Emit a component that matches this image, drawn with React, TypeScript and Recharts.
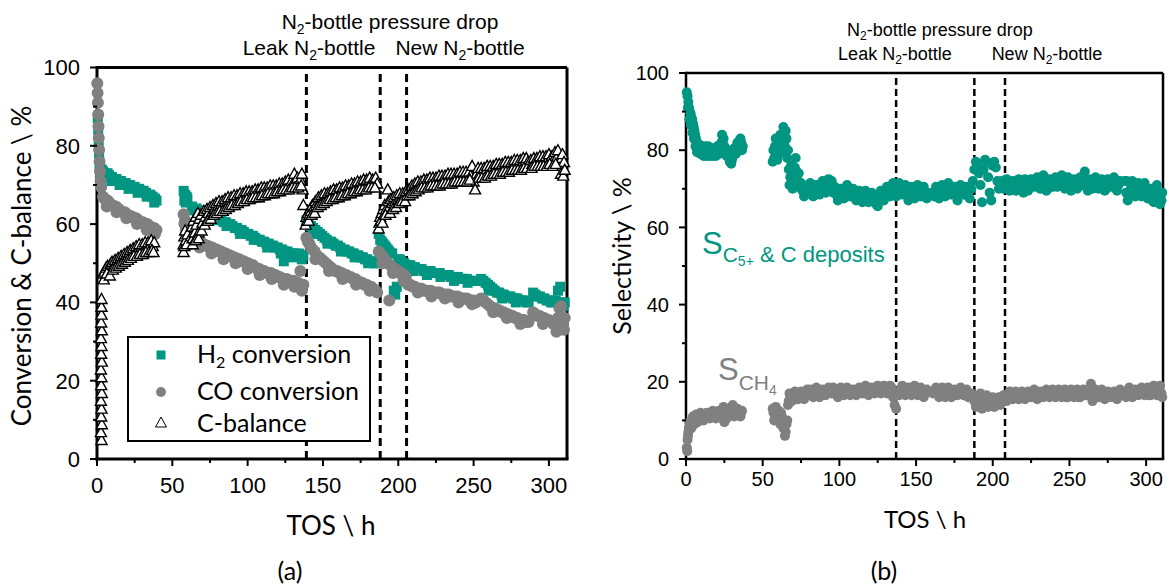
import React from 'react';
import { ScatterChart, Scatter, XAxis, YAxis, ReferenceLine } from 'recharts';

const TEAL = '#009682';
const GREY = '#808080';
const ARIAL = '"Liberation Sans", Arial, sans-serif';
const CAL = 'Lato, "Open Sans", sans-serif';

type P = [number, number];

// ---------- tick values ----------
const xTicks = [0, 25, 50, 75, 100, 125, 150, 175, 200, 225, 250, 275, 300];
const xMajor = [0, 50, 100, 150, 200, 250, 300];
const yTicks = [0, 10, 20, 30, 40, 50, 60, 70, 80, 90, 100];
const yMajor = [0, 20, 40, 60, 80, 100];
const eventsLeft = [139, 188, 205.5];
const eventsRight = [137, 188, 208];

// ---------- panel (a) ----------
const h2Conversion: P[] = [
  [0.5,87],[0.8,84],[1.1,81],[1.4,78],[1.7,75],[2,72.5],[2.5,71],[3,74],[4,73.5],[5,73],[6,72.5],[7,73],[8,72.5],[9,72],[10,72],[11.5,71.5],[13,71.5],[14.5,71],[16,71],[17.5,70.5],[19,70.5],[20.5,70],[22,70],[23.5,69.5],[25,69.5],[26.5,69],[28,69],[29.5,68.5],[31,68.5],[32.5,68],[34,67.5],[35.5,67.5],[37,67],[38.5,66.5],[39.5,66],
  [4.5,72],[9.5,71],[15,70],[21,69],[27,68],[33,67],[38,65.5],
  [57.5,68.5],[58,66],[58.5,67.5],[59,65.5],[59.5,67],[60,66.5],
  [63,64.5],[64.5,63.5],[66,64],[67.5,63.5],[69,63.5],[70.5,63],[72,63],[73.5,62.5],[75,62.5],[76.5,62],[78,62],[79.5,61.5],[81,61.5],[82.5,61],[84,60.5],[85.5,60.5],[87,60],[88.5,60],[90,59.5],[91.5,59],[93,59],[94.5,58.5],[96,58.5],[97.5,58],[99,57.5],[100.5,57.5],[102,57],[103.5,57],[105,56.5],[106.5,56],[108,56],[109.5,55.5],[111,55.5],[112.5,55],[114,55],[115.5,54.5],[117,54.5],[118.5,54],[120,54],[121.5,53.5],[123,53.5],[124,50.5],[125,53],[126.5,53],[128,52.5],[129.5,52.5],[131,52.5],[132.5,52],[134,52.5],[135.5,52],[137,52],
  [68,62.5],[77,61],[86,59.5],[95,57.5],[104,56],[113,54],[122,52.5],[130,51.5],[136,51],
  [139,61],[140.5,60.5],[142,59.5],[143.5,59],[145,58.5],[146.5,58],[148,57.5],[149.5,57],[151,56.5],[152.5,56],[154,55.5],[155.5,55.5],[157,55],[158.5,54.5],[160,54.5],[161.5,54],[163,53.5],[164.5,53.5],[166,53],[167.5,53],[169,52.5],[170.5,52.5],[172,52],[173.5,52],[175,51.5],[176.5,51.5],[178,51],[179.5,51],[181,50.5],[182.5,50.5],[184,50],[185.5,50],
  [144,57.5],[153,55],[162,53],[171,51.5],[180,50],
  [187,57.5],[188,56],[189,55.5],[190,55],[191,54.5],[192,54],[193,53.5],[194,53],[195,52.5],[196,52.5],[197,43],[198,42],[199,44],[200,51],[201,51],[202,50.5],[203,50],[204,50],[205,49.5],
  [206.5,49.5],[208,49.5],[209.5,49],[211,49],[212.5,48.5],[214,48.5],[215.5,48.5],[217,48],[218.5,48],[220,48],[221.5,48],[223,47.5],[224.5,47.5],[226,47.5],[227.5,47.5],[229,47],[230.5,47],[232,47],[233.5,47],[235,46.5],[236.5,46.5],[238,46.5],[239.5,46.5],[241,46],[242.5,46],[244,46],[245.5,46],[247,45.5],[248.5,45.5],[250,45.5],[251.5,45.5],
  [210,48],[219,47],[228,46.5],[237,45.5],[246,45],
  [255,46],[256.5,45.5],[258,45],[259.5,44.5],[261,44],[262.5,43.5],[264,43],[265.5,42.5],[267,42.5],[268.5,42],[270,42],[271.5,41.5],[273,41.5],[274.5,41.5],[276,41],[277.5,41],[279,41],[280.5,40.5],[282,40.5],[283.5,40.5],[285,40],[286.5,40],
  [260,43],[269,41],[278,40],
  [289.5,42.5],[291,42],[292.5,41.5],[294,41.5],[295.5,41],[297,41],[298.5,40.5],[300,40.5],[301.5,40],[303,40],[304.5,40.5],[306,43],[307.5,44],[308.5,40],[309.5,39],[310.5,40],
];

const coConversion: P[] = [
  [0.2,96],[0.4,93.5],[0.6,91],[0.8,88],[1,85],[1.2,82],[1.4,79],[1.7,76],[2,73.5],[2.4,71],[2.8,69.5],
  [4,67],[5,66.5],[6,66],[7,66],[8,65.5],[9.5,65],[11,64.5],[12.5,64.5],[14,64],[15.5,63.5],[17,63],[18.5,63],[20,62.5],[21.5,62],[23,62],[24.5,61.5],[26,61.5],[27.5,61],[29,60.5],[30.5,60.5],[32,60],[33.5,60],[35,59.5],[36.5,59],[38,59],[39.5,58.5],
  [6.5,64.5],[13,63],[19.5,61.5],[26.5,60],[33,58.5],[38.5,57.5],
  [57.5,62.5],[58,60],[58.5,61],[59,58.5],[59.5,57.5],[60,59],[61,56.5],
  [63,56],[64.5,55.5],[66,55.5],[67.5,55.5],[69,55],[70.5,55],[72,54.5],[73.5,54.5],[75,54],[76.5,54],[78,53.5],[79.5,53.5],[81,53],[82.5,53],[84,52.5],[85.5,52.5],[87,52],[88.5,52],[90,51.5],[91.5,51.5],[93,51],[94.5,51],[96,50.5],[97.5,50.5],[99,50],[100.5,50],[102,49.5],[103.5,49.5],[105,49],[106.5,48.5],[108,48.5],[109.5,48],[111,48],[112.5,47.5],[114,47.5],[115.5,47.5],[117,47],[118.5,47],[120,46.5],[121.5,46.5],[123,46],[124.5,46],[126,46],[127.5,45.5],[129,45.5],[130.5,45.5],[132,45],[133.5,45],[135,48],[135.5,44.5],[137,44.5],
  [68,54],[76,52.5],[84,51],[92,50],[100,48.5],[108,47],[116,46],[124,44.5],[131,44],[136,43],
  [139,56.5],[140,55.5],[141,55],[142,54],[143,53.5],[144.5,53],[146,52],[147.5,51.5],[149,51],[150.5,50.5],[152,50],[153.5,49.5],[155,49],[156.5,48.5],[158,48],[159.5,48],[161,47.5],[162.5,47.5],[164,47],[165.5,47],[167,46.5],[168.5,46.5],[170,46],[171.5,46],[173,45.5],[174.5,45],[176,45],[177.5,44.5],[179,44.5],[180.5,44],[182,44],[183.5,43.5],[185,43],[186,42.5],
  [145,51],[154,48],[163,46],[172,44.5],[181,43],
  [187,53],[188,52.5],[189,52],[190,51.5],[191,51],[192,50.5],[193,50],[194,40.5],[195,49.5],[196,49],[197,48.5],[198,48.5],[199,48],[200,48],[201,47.5],[202,47.5],[203,47],[204,47],[205,46.5],
  [189.5,50],[196.5,47.5],[203.5,45.5],
  [206.5,44.5],[208,44.5],[209.5,44],[211,44],[212.5,43.5],[214,43.5],[215.5,43.5],[217,43],[218.5,43],[220,43],[221.5,43],[223,42.5],[224.5,42.5],[226,42.5],[227.5,42.5],[229,42],[230.5,42],[232,42],[233.5,42],[235,41.5],[236.5,41.5],[238,41.5],[239.5,41.5],[241,41],[242.5,41],[244,41],[245.5,41],[247,40.5],[248.5,40.5],[250,40.5],[251.5,40],
  [213,42.5],[222,41.5],[231,41],[240,40],[249,39.5],
  [255,41],[256.5,40.5],[258,40],[259.5,39.5],[261,39],[262.5,38.5],[264,38.5],[265.5,38],[267,38],[268.5,37.5],[270,37.5],[271.5,37],[273,37],[274.5,36.5],[276,36.5],[277.5,36],[279,36],[280.5,35.5],[282,35.5],[283.5,35.5],[285,35],[286.5,35],
  [263,37.5],[272,36],[281,34.5],
  [289.5,37.5],[291,37],[292.5,36.5],[294,36.5],[295.5,36],[297,36],[298.5,35.5],[300,35.5],[301.5,35],[303,34.5],[304.5,34],[306,36],[307,38.5],[308,39],[309,34],[310,33],[310.5,36],
  [296,34.5],[305,32.5],
];

const cBalance: P[] = [
  [3,5],[2.6,7],[3.2,9],[2.8,11],[3,13],[2.6,15],[3.2,17],[2.8,19],[3,21],[2.6,23],[3.2,25],[2.8,27],[3,29],[2.6,31],[3.2,33],[2.8,35],[3,37],[3,39],[3,41],
  [4,47.5],[5,48],[6,49],[7,49.5],[8,48.5],[9,50],[10,50.5],[11,49.5],[12,51],[13,50.5],[14,51.5],[15,51],[16,52],[17,51.5],[18,52.5],[19,52],[20,53],[21,52.5],[22,53.5],[23,52.5],[24,54],[25,53],[26,54.5],[27,53.5],[28,55],[29,54],[30,55],[31,53.5],[32,55.5],[33,54],[34,55.5],[35,54.5],[36,56],[37,54.5],[38,55.5],
  [4.5,46],[6.5,47.5],[8.5,47],[10.5,48.5],[12.5,49],[14.5,49.5],[16.5,50],[18.5,50.5],[20.5,51],[22.5,51.5],[24.5,52],[26.5,52],[28.5,52.5],[30.5,52.5],[32.5,53],[34.5,53],[36.5,53.5],[37.5,53],
  [57.5,55],[57.5,53],[58,57],[58,54.5],[58.5,58.5],[59,56],[59.5,55],[60,57.5],
  [62.5,57],[63,59.5],[63.5,56.5],[64,61],[65,58],[65.5,62],[66,60],[67,63],[67.5,58],[68,61.5],[69,62.5],[70,60.5],[71,63.5],[72,62],[73,64],[74,63],[75,64.5],[76,63],[77,65],[78,64],[79,65.5],[80,64.5],[81,66],[82,65],[83,66],[84,65],[85,66.5],[86,65.5],[87,67],[88,66],[89,67],[90,66],[91,67.5],[92,66.5],[93,67.5],[94,66.5],[95,68],[96,67],[97,68],[98,67],[99,68.5],[100,67.5],[101,68.5],[102,67.5],[103,68.5],[104,68],[105,69],[106,68],[107,69],[108,68],[109,69.5],[110,68.5],[111,69.5],[112,68.5],[113,69.5],[114,69],[115,70],[116,69],[117,70],[118,69],[119,70],[120,69.5],[121,70.5],[122,69.5],[123,70.5],[124,70],[125,71],[126,70],[127,71.5],[128,70],[129,71],[130,70.5],[131,73],[132,71],[133,72],[134,70.5],[135,71.5],[136,73],[136.5,69],[137,65],
  [63.5,55],[65.5,56],[67.5,56.5],[69.5,58.5],[71.5,60],[73.5,61],[75.5,61.5],[77.5,62.5],[79.5,63],[81.5,63.5],[83.5,63.5],[85.5,64],[87.5,64.5],[89.5,65],[91.5,65],[93.5,65.5],[95.5,66],[97.5,66],[99.5,66.5],[101.5,66.5],[103.5,67],[105.5,67],[107.5,67],[109.5,67.5],[111.5,67.5],[113.5,68],[115.5,68],[117.5,68],[119.5,68.5],[121.5,68.5],[123.5,69],[125.5,69],[127.5,69],[129.5,69.5],[131.5,69.5],[133.5,69.5],[135.5,70],
  [138.5,60],[139,62],[139.5,61],[140,63],[141,62.5],[141.5,64],[142,63.5],[143,65],[144,64.5],[145,66],[146,65.5],[147,67],[148,66],[149,67.5],[150,66.5],[151,68],[152,67],[153,68],[154,67.5],[155,68.5],[156,67.5],[157,69],[158,68],[159,69],[160,68],[161,69.5],[162,68.5],[163,69.5],[164,68.5],[165,70],[166,69],[167,70],[168,69],[169,70.5],[170,69.5],[171,70.5],[172,69.5],[173,71],[174,70],[175,71],[176,70],[177,71.5],[178,70],[179,71.5],[180,70.5],[181,72],[182,70.5],[183,71.5],[184,70.5],[185,72],[186,70.5],
  [140.5,61],[142.5,62.5],[144.5,63],[146.5,64.5],[148.5,65],[150.5,65.5],[152.5,66],[154.5,66.5],[156.5,66.5],[158.5,67],[160.5,67],[162.5,67.5],[164.5,67.5],[166.5,68],[168.5,68],[170.5,68.5],[172.5,68.5],[174.5,69],[176.5,69],[178.5,69],[180.5,69.5],[182.5,69.5],[184.5,69.5],
  [187,59],[187.5,60.5],[188,62],[188.5,61],[189,63],[190,64],[190.5,62.5],[191,65],[192,64],[193,69],[193.5,66],[194,64.5],[195,66.5],[196,65.5],[197,67],[198,66],[199,67.5],[200,66.5],[201,68],[202,67],[203,68],[204,67.5],[205,68.5],
  [189.5,60.5],[191.5,62.5],[194.5,63],[196.5,64],[198.5,64.5],[200.5,65.5],[202.5,66],[204.5,66],
  [206,67.5],[207,69],[208,68.5],[209,70],[210,69],[211,70.5],[212,69.5],[213,71],[214,70],[215,71],[216,70],[217,71.5],[218,70.5],[219,71.5],[220,70.5],[221,72],[222,70.5],[223,72],[224,71],[225,72],[226,71],[227,72.5],[228,71],[229,72.5],[230,71.5],[231,72.5],[232,71.5],[233,73],[234,71.5],[235,73],[236,71.5],[237,73],[238,72],[239,73],[240,72],[241,73.5],[242,72],[243,73.5],[244,72.5],[245,73.5],[246,72.5],[247,73.5],[248,72.5],[249,75],[250,71],[251,69],[252,73],[253,74.5],[254,73],[255,74.5],[256,73],[257,74.5],[258,73.5],[259,75],[260,73.5],[261,75],[262,74],[263,75],[264,74],[265,75.5],[266,74],[267,75.5],[268,74.5],[269,75.5],[270,74.5],[271,76],[272,75],[273,76],[274,75],[275,76],[276,75],[277,76.5],[278,75.5],[279,76.5],[280,75.5],[281,76.5],[282,75.5],[283,77],[284,76],[285,77],[286,76],
  [207.5,67.5],[209.5,68],[211.5,68.5],[213.5,69],[215.5,69.5],[217.5,69.5],[219.5,69.5],[221.5,70],[223.5,70],[225.5,70],[227.5,70],[229.5,70.5],[231.5,70.5],[233.5,70.5],[235.5,70.5],[237.5,71],[239.5,71],[241.5,71],[243.5,71],[245.5,71],[247.5,71.5],[253.5,72],[255.5,72],[257.5,72],[259.5,72.5],[261.5,72.5],[263.5,73],[265.5,73],[267.5,73],[269.5,73.5],[271.5,73.5],[273.5,73.5],[275.5,74],[277.5,74],[279.5,74],[281.5,74],[283.5,74.5],[285.5,74.5],
  [288,76.5],[289,75.5],[290,77],[291,76],[292,77],[293,76],[294,77.5],[295,76],[296,77.5],[297,76.5],[298,77.5],[299,76.5],[300,78],[301,76.5],[302,77.5],[303,76.5],[304,78.5],[305,77],[306,79],[307,75],[308,73],[308.5,77],[309,78],[309.5,72.5],[310,76],[310.5,74],
  [288.5,74.5],[290.5,75],[292.5,75],[294.5,75],[296.5,75],[298.5,75],[300.5,75.5],[302.5,75],[304.5,75.5],
];

// ---------- panel (b) ----------
const sC5: P[] = [
  [0.5,95],[1,94],[1.5,92.5],[2,91],[2.5,90],[3,89.5],[3.5,88.5],[4,88],[4.5,87],[5,86],[5.5,85],[6,84],[6.5,83],[7,82],[7.5,81],[8,80.5],[9,80],[10,80.5],[11,80],[12,80],[13,79.5],[14,80],[15,79.5],[16,79.5],[17,80],[18,79.5],[19,79.5],[20,79.5],[21,80],[22,80],[23,82],[24,82.5],[25,81],[26,80],[27,79.5],[28,79],[29,78],[30,77.5],[31,79],[32,80],[33,80.5],[34,81],[35,81.5],[36,82],[37,81],
  [1.2,91],[2.2,88],[3.2,86.5],[4.2,84.5],[5.2,83],[6.2,81],[7.2,79.5],[8.5,81.5],[9.5,79],[10.5,81],[11.5,78.5],[12.5,81],[13.5,78.5],[14.5,81],[15.5,78.5],[16.5,80.5],[17.5,78.5],[18.5,80.5],[19.5,78.5],[20.5,81],[21.5,79],[22.5,81],[23.5,84],[24.5,83],[25.5,80],[26.5,78.5],[27.5,80],[28.5,77],[29.5,76.5],[30.5,78.5],[31.5,80.5],[32.5,79],[33.5,82],[34.5,80],[35.5,83],[36.5,80],
  [57,80],[57.5,78],[58,81],[59,79.5],[60,82],[61,81],[62,83],[63,83.5],[64,84.5],[65,85],[65.5,83],[66,78],[67,75],[68,73],[69,72.5],[70,74],[71,75.5],[72,74.5],[73,72],[74,71],[75,70],[76,69.5],[78,69.5],
  [56.5,77],[58.5,83],[59.5,77.5],[60.5,79],[61.5,84],[62.5,80],[63.5,86],[64.5,81],[66.5,80],[67.5,71],[68.5,76],[69.5,70],[70.5,72],[71.5,78],[72.5,71],[73.5,74],[75,71.5],[77,68],
  [80,70],[82,69],[84,70],[86,69.5],[88,70.5],[90,71.5],[92,70],[94,71],[95,72],[96,69],[98,68.5],[100,68.5],[102,69],[104,69.5],[106,70],[108,69],[110,68.5],[112,68.5],[114,68],[116,68.5],[118,68],[120,67.5],[122,68],[124,66],[125,65.5],[126,67.5],[128,68.5],[130,69],[132,69.5],[134,70.5],[136,70],[138,68.5],[140,70],[142,70.5],[144,69],[146,68],[148,69.5],[150,69],[152,70],[154,69.5],[156,68.5],[158,69],
  [81,71.5],[83,68],[85,71],[87,68.5],[89,72],[91,69],[93,72.5],[97,70.5],[99,67],[101,70],[103,67.5],[105,71],[107,68],[109,70],[111,67],[113,69.5],[115,66.5],[117,69.5],[119,66.5],[121,69],[123,66.5],[127,69.5],[129,67],[131,70.5],[133,68],[135,71.5],[137,68],[139,71.5],[141,68.5],[143,71],[145,67],[147,70.5],[149,67.5],[151,71],[153,68],[155,70.5],[157,67.5],
  [161,69],[162,68],[164,69.5],[166,69],[168,70],[170,69],[172,70.5],[174,69.5],[176,68.5],[178,69.5],[180,70],[182,68.5],[184,69],[186,70],[187,72],[188,75],[189,77],[190,76.5],[191,74],[192,71],[193,66.5],[194,75],[195,77.5],[196,77],[197,73],[198,69],[199,67],[200,76],[201,77],[202,75.5],[203,72],[204,70],[205,71.5],
  [163,70.5],[165,67.5],[167,71],[169,68],[171,71.5],[173,68.5],[175,70.5],[177,67],[179,71],[181,68.5],[183,70.5],[185,67.5],
  [206,72],[208,71],[210,71.5],[212,70.5],[214,71],[216,70.5],[218,71],[220,69],[222,71.5],[224,70.5],[226,71.5],[228,72],[230,71],[232,72.5],[234,71],[236,70],[238,71.5],[240,72],[242,70.5],[244,72.5],[246,71],[248,72],[250,70.5],[252,71],[254,72],[256,70.5],[258,72],[260,74.5],[261,71],[262,69.5],[264,71],[266,72],[268,70.5],[270,71.5],[272,71],[274,70],[276,71.5],[278,72],[280,70.5],[282,71],
  [207,70],[209,72.5],[211,69.5],[213,72],[215,69.5],[217,72.5],[219,70],[221,72.5],[223,69.5],[225,72.5],[227,70.5],[229,73],[231,70],[233,73.5],[235,69.5],[237,72.5],[239,70.5],[241,73],[243,71],[245,73.5],[247,70],[249,73],[251,69.5],[253,72.5],[255,70],[257,73],[259,71],[263,72.5],[265,70],[267,73],[269,70],[271,72.5],[273,69.5],[275,72.5],[277,70.5],[279,73],[281,69.5],[283,72],
  [286,72],[287,69],[288,67],[290,70],[292,71],[294,69.5],[296,70.5],[298,69],[300,70],[302,68.5],[304,67],[306,70],[308,68.5],[310,67],
  [287.5,72],[289,68.5],[291,72],[293,68],[295,71.5],[297,68],[299,71.5],[301,67.5],[303,70],[305,66.5],[307,71],[309,66],[310.5,69],
];

const sCH4: P[] = [
  [0.5,3],[1,5],[1.5,7],[2,8],[2.5,8.5],[3,9],[4,10],[5,9.5],[6,10.5],[7,10.5],[8,11],[9,10.5],[10,10.5],[11,11],[12,11],[13,11],[14,11],[15,11.5],[16,11.5],[17,11],[18,11.5],[19,11.5],[20,11],[21,11.5],[22,12],[23,11.5],[24,12.5],[25,9.5],[26,11.5],[27,12],[28,12],[29,12.5],[30,13],[31,12],[32,12.5],[33,12],[34,12],[35,12],[36,12],
  [0.8,2],[1.3,6],[2.2,9.5],[3.5,8],[4.5,11],[5.5,9],[6.5,11.5],[7.5,9.5],[9.5,12],[11.5,10],[13.5,12],[15.5,10.5],[17.5,12.5],[19.5,10.5],[21.5,12.5],[23.5,11],[24.5,13.5],[26.5,10.5],[28.5,13],[30.5,14],[31.5,11],[33.5,13],[35.5,11],[36.5,12.5],
  [57,12],[58,11],[59,12.5],[60,11],[61,10.5],[62,12],[63,9.5],[64,8],[65,7],[66,10],[67,15],[68,16],[70,16],[72,16.5],[74,16],[76,17],[78,16.5],[80,17],
  [56.5,13],[57.5,10],[58.5,13.5],[59.5,10],[60.5,12.5],[61.5,9],[62.5,11],[63.5,8],[64.5,6],[65.5,9],[66.5,14],[67.5,17],[69,15],[71,17.5],[73,15.5],[75,17.5],[77,15.5],[79,18],
  [82,16.5],[84,17],[86,17.5],[88,16.5],[90,17],[92,17.5],[94,18],[96,18.5],[98,17],[100,17],[102,17.5],[104,17],[106,17.5],[108,17.5],[110,17],[112,17.5],[114,17.5],[116,18],[118,17.5],[120,17.5],[122,18],[124,18.5],[126,17.5],[128,18],[130,18],[132,17.5],[134,18.5],[135,16],[136,14],[137,13],[138,17],[140,18],[142,17.5],[144,18],[146,17],[148,17.5],[150,18],[152,17.5],[154,16.5],[156,17],
  [81,18],[83,16],[85,18.5],[87,16],[89,18],[91,16.5],[93,18.5],[95,17],[97,17.5],[99,16],[101,18.5],[103,16.5],[105,18.5],[107,16.5],[109,18],[111,16.5],[113,18.5],[115,17],[117,19],[119,16.5],[121,18.5],[123,17],[125,19],[127,17],[129,19],[131,17],[133,19],[139,16.5],[141,19],[143,16.5],[145,18.5],[147,16.5],[149,19],[151,16.5],[153,18.5],[155,16],[157,18],
  [161,17],[162,17.5],[164,17],[166,16.5],[168,17.5],[170,17],[172,17.5],[174,16.5],[176,17],[178,17.5],[180,18],[182,17],[184,16],[186,17],[188,15],[189,13.5],[190,16],[191,14],[192,17],[193,13],[194,15.5],[195,14],[196,16.5],[197,13.5],[198,15],[199,14],[200,16],[201,13.5],[202,15],[203,14.5],[204,16],[205,14],
  [163,18.5],[165,16],[167,18.5],[169,16],[171,18.5],[173,16],[175,18],[177,16.5],[179,18.5],[181,16.5],[183,18],[185,16],
  [206,15.5],[208,16],[210,16.5],[212,16],[214,16.5],[216,17],[218,16.5],[220,16],[222,17],[224,16.5],[226,17],[228,16.5],[230,16],[232,17],[234,16.5],[236,17.5],[238,16.5],[240,17],[242,16.5],[244,17.5],[246,17],[248,16],[250,17],[252,16.5],[254,17.5],[256,16],[258,17],[260,16.5],[262,18],[264,19.5],[265,15],[266,17],[268,16],[270,17],[272,16.5],[274,16],[276,17],[278,16.5],[280,16],[282,17],
  [207,16.5],[209,15],[211,17.5],[213,15.5],[215,17.5],[217,15.5],[219,17.5],[221,15.5],[223,17.5],[225,16],[227,18],[229,15.5],[231,17.5],[233,16],[235,18],[237,16],[239,18],[241,16],[243,18],[245,16],[247,18],[249,16],[251,18],[253,16],[255,18],[257,16],[259,18],[261,16.5],[263,17],[267,18],[269,16],[271,18],[273,15.5],[275,17.5],[277,16],[279,17.5],[281,15.5],[283,18],
  [286,16.5],[288,17.5],[290,17],[292,16.5],[294,17.5],[296,17],[298,18],[300,17.5],[302,16.5],[304,18],[306,17.5],[308,18.5],[310,17],
  [287,16],[289,18.5],[291,16],[293,18],[295,16.5],[297,18.5],[299,16.5],[301,18.5],[303,16.5],[305,19],[307,16.5],[309,19],[310.5,16],
];

const toPts = (a: P[]) => a.map(([x, y]) => ({ x, y }));

// ---------- marks ----------
const squareShape = (p: any) => <rect x={p.cx - 5} y={p.cy - 5} width={10} height={10} fill={TEAL} />;
const circleShape = (color: string, r: number) => (p: any) => <circle cx={p.cx} cy={p.cy} r={r} fill={color} />;
const triPath = (cx: number, cy: number, w: number, h: number) =>
  `M${cx},${cy - h / 2} L${cx + w / 2},${cy + h / 2} L${cx - w / 2},${cy + h / 2} Z`;
const triangleShape = (p: any) => <path d={triPath(p.cx, p.cy, 11, 10)} fill="#fff" stroke="#000" strokeWidth={1.4} />;

// ---------- ticks ----------
const makeXTick = (fs: number, base: number) => (p: any) => {
  const v = p.payload.value;
  const major = xMajor.includes(v);
  return (
    <g>
      <line x1={p.x} x2={p.x} y1={p.y} y2={p.y + (major ? 7 : 4)} stroke="#000" strokeWidth={2} />
      {major && (
        <text x={p.x} y={p.y + base} textAnchor="middle" fontSize={fs} fontFamily={ARIAL} fill="#000">{v}</text>
      )}
    </g>
  );
};
const makeYTick = (fs: number, gap: number) => (p: any) => {
  const v = p.payload.value;
  const major = yMajor.includes(v);
  return (
    <g>
      <line x1={p.x - (major ? 7 : 4)} x2={p.x} y1={p.y} y2={p.y} stroke="#000" strokeWidth={2} />
      {major && (
        <text x={p.x - gap} y={p.y} dy="0.36em" textAnchor="end" fontSize={fs} fontFamily={ARIAL} fill="#000">{v}</text>
      )}
    </g>
  );
};

export default function App() {
  return (
    <div style={{ position: 'absolute', left: 0, top: 0, width: 1169, height: 587, background: '#fff', overflow: 'hidden' }}>
      <div style={{ position: 'absolute', left: 0, top: 0 }}>
        <ScatterChart width={600} height={587} margin={{ top: 67.5, right: 33, bottom: 78, left: 37 }}>
          <XAxis type="number" dataKey="x" domain={[0, 312]} ticks={xTicks} interval={0} tickSize={0} tickMargin={0} tickLine={false}
            height={50} tick={makeXTick(22, 34)} axisLine={{ stroke: '#000', strokeWidth: 3, strokeLinecap: 'square' }} />
          <YAxis type="number" dataKey="y" domain={[0, 100]} ticks={yTicks} interval={0} tickSize={0} tickMargin={0} tickLine={false}
            width={60} tick={makeYTick(22, 17)} axisLine={{ stroke: '#000', strokeWidth: 3, strokeLinecap: 'square' }} />
          <ReferenceLine y={100} stroke="#000" strokeWidth={3} />
          <ReferenceLine x={312} stroke="#000" strokeWidth={3} />
          {eventsLeft.map((e) => (
            <ReferenceLine key={e} x={e} stroke="#000" strokeWidth={3} strokeDasharray="8 5" />
          ))}
          <Scatter name="H2 conversion" data={toPts(h2Conversion)} shape={squareShape} isAnimationActive={false} />
          <Scatter name="CO conversion" data={toPts(coConversion)} shape={circleShape(GREY, 6)} isAnimationActive={false} />
          <Scatter name="C-balance" data={toPts(cBalance)} shape={triangleShape} isAnimationActive={false} />
        </ScatterChart>
      </div>
      <div style={{ position: 'absolute', left: 600, top: 0 }}>
        <ScatterChart width={569} height={587} margin={{ top: 73, right: 6, bottom: 78, left: 26 }}>
          <XAxis type="number" dataKey="x" domain={[0, 311]} ticks={xTicks} interval={0} tickSize={0} tickMargin={0} tickLine={false}
            height={50} tick={makeXTick(20, 27)} axisLine={{ stroke: '#000', strokeWidth: 2.5, strokeLinecap: 'square' }} />
          <YAxis type="number" dataKey="y" domain={[0, 100]} ticks={yTicks} interval={0} tickSize={0} tickMargin={0} tickLine={false}
            width={60} tick={makeYTick(20, 17)} axisLine={{ stroke: '#000', strokeWidth: 2.5, strokeLinecap: 'square' }} />
          <ReferenceLine y={100} stroke="#000" strokeWidth={2.5} />
          <ReferenceLine x={311} stroke="#000" strokeWidth={2.5} />
          {eventsRight.map((e) => (
            <ReferenceLine key={e} x={e} stroke="#000" strokeWidth={2.5} strokeDasharray="7 4" />
          ))}
          <Scatter name="S C5+ & C deposits" data={toPts(sC5)} shape={circleShape(TEAL, 5)} isAnimationActive={false} />
          <Scatter name="S CH4" data={toPts(sCH4)} shape={circleShape(GREY, 5)} isAnimationActive={false} />
        </ScatterChart>
      </div>

      <svg width={1169} height={587} style={{ position: 'absolute', left: 0, top: 0, pointerEvents: 'none' }}>
        {/* panel (a) annotations */}
        <g fontFamily={ARIAL} fill="#000">
          <text x={390} y={29} fontSize={21} textAnchor="middle">N<tspan fontSize={14} dy={5}>2</tspan><tspan dy={-5}>-bottle pressure drop</tspan></text>
          <text x={309} y={55} fontSize={21} textAnchor="middle">Leak N<tspan fontSize={14} dy={5}>2</tspan><tspan dy={-5}>-bottle</tspan></text>
          <text x={460} y={55} fontSize={21} textAnchor="middle">New N<tspan fontSize={14} dy={5}>2</tspan><tspan dy={-5}>-bottle</tspan></text>
        </g>
        {/* panel (b) annotations */}
        <g fontFamily={ARIAL} fill="#000">
          <text x={940} y={36} fontSize={18} textAnchor="middle">N<tspan fontSize={12} dy={4}>2</tspan><tspan dy={-4}>-bottle pressure drop</tspan></text>
          <text x={895} y={60} fontSize={18} textAnchor="middle">Leak N<tspan fontSize={12} dy={4}>2</tspan><tspan dy={-4}>-bottle</tspan></text>
          <text x={1047} y={60} fontSize={18} textAnchor="middle">New N<tspan fontSize={12} dy={4}>2</tspan><tspan dy={-4}>-bottle</tspan></text>
        </g>
        {/* axis titles */}
        <g fontFamily={CAL} fill="#000">
          <text transform="translate(22,266) rotate(-90)" fontSize={26} textAnchor="middle" dy="0.35em">{'Conversion & C-balance \\ %'}</text>
          <text x={331} y={535} fontSize={26} textAnchor="middle">{'TOS \\ h'}</text>
          <text x={290} y={580} fontSize={25} textAnchor="middle">(a)</text>
          <text transform="translate(622,256) rotate(-90)" fontSize={25} textAnchor="middle" dy="0.35em">{'Selectivity \\ %'}</text>
          <text x={925} y={528} fontSize={24} textAnchor="middle">{'TOS \\ h'}</text>
          <text x={884} y={580} fontSize={25} textAnchor="middle">(b)</text>
        </g>
        {/* legend (a) */}
        <g>
          <rect x={128} y={337} width={242} height={104} fill="#fff" stroke="#000" strokeWidth={2} />
          <rect x={156.5} y={350.5} width={9} height={9} fill={TEAL} />
          <circle cx={161} cy={392} r={5} fill={GREY} />
          <path d={triPath(161, 422, 11, 10)} fill="#fff" stroke="#000" strokeWidth={1} />
          <g fontFamily={CAL} fontSize={25} fill="#000">
            <text x={197} y={363}>H<tspan fontSize={16} dy={5}>2</tspan><tspan dy={-5}> conversion</tspan></text>
            <text x={197} y={400}>CO conversion</text>
            <text x={197} y={432}>C-balance</text>
          </g>
        </g>
        {/* series labels (b) */}
        <g fontFamily={ARIAL}>
          <text x={702} y={254} fill={TEAL} fontSize={31}>S<tspan fontSize={21} dy={8}>C</tspan><tspan fontSize={14} dy={4}>5+</tspan><tspan fontSize={22} dy={-4}> &amp; C deposits</tspan></text>
          <text x={718} y={380} fill={GREY} fontSize={31}>S<tspan fontSize={21} dy={10}>CH</tspan><tspan fontSize={14} dy={5}>4</tspan></text>
        </g>
      </svg>
    </div>
  );
}
